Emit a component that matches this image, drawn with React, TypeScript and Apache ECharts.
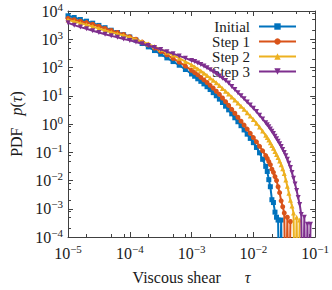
import React, { useEffect, useRef } from "react";
import * as echarts from "echarts";

// log10 of viscous shear tau (sampling positions)
const logTau = [
  -5.0, -4.9, -4.8, -4.7, -4.6, -4.5, -4.4, -4.3, -4.2, -4.1, -4.0, -3.9, -3.8, -3.7, -3.6, -3.5, -3.4, -3.3, -3.2, -3.1, -3.0,
  -2.95, -2.9, -2.85, -2.8, -2.75, -2.7, -2.65, -2.6, -2.55, -2.5, -2.45, -2.4, -2.35, -2.3, -2.25, -2.2, -2.15, -2.1, -2.05, -2.0, -1.95, -1.9, -1.85, -1.8,
  -1.775, -1.75, -1.725, -1.7, -1.675, -1.65, -1.625, -1.6, -1.575, -1.55, -1.525, -1.5, -1.475, -1.45, -1.425, -1.4, -1.375, -1.35, -1.325, -1.3,
  -1.275, -1.25, -1.225, -1.2, -1.175, -1.15, -1.125, -1.1, -1.075, -1.05,
];

// log10 of PDF p(tau); -7 marks an empty bin (drops below the axis)
const initialLogP = [
  3.83, 3.77, 3.70, 3.64, 3.57, 3.49, 3.41, 3.32, 3.24, 3.16, 3.08, 2.97, 2.85, 2.73, 2.60, 2.47, 2.34, 2.21, 2.08, 1.93, 1.77,
  1.69, 1.60, 1.51, 1.42, 1.32, 1.22, 1.11, 1.00, 0.88, 0.76, 0.63, 0.50, 0.36, 0.22, 0.08, -0.06, -0.21, -0.36, -0.51, -0.66, -0.83, -1.02, -1.25, -1.50,
  -1.68, -1.97, -2.22, -2.68, -2.78, -3.12, -3.3, -3.4, -7, -3.4, -7,
];
const step1LogP = [
  3.74, 3.69, 3.64, 3.59, 3.53, 3.46, 3.38, 3.31, 3.24, 3.17, 3.09, 3.00, 2.90, 2.80, 2.69, 2.57, 2.45, 2.32, 2.19, 2.05, 1.90,
  1.82, 1.74, 1.65, 1.56, 1.47, 1.37, 1.27, 1.16, 1.05, 0.92, 0.79, 0.66, 0.52, 0.38, 0.24, 0.10, -0.04, -0.18, -0.33, -0.48, -0.63, -0.79, -0.95, -1.12,
  -1.22, -1.33, -1.44, -1.6, -1.71, -1.86, -2.0, -2.22, -2.43, -2.72, -2.93, -3.15, -7, -3.3, -7, -3.45,
];
const step2LogP = [
  3.68, 3.63, 3.57, 3.51, 3.45, 3.38, 3.31, 3.25, 3.19, 3.13, 3.07, 2.99, 2.91, 2.83, 2.74, 2.64, 2.54, 2.44, 2.33, 2.21, 2.09,
  2.02, 1.95, 1.88, 1.80, 1.72, 1.63, 1.55, 1.46, 1.36, 1.26, 1.16, 1.06, 0.96, 0.85, 0.74, 0.63, 0.52, 0.40, 0.28, 0.16, 0.03, -0.11, -0.25, -0.40,
  -0.48, -0.57, -0.66, -0.76, -0.86, -0.97, -1.08, -1.19, -1.31, -1.44, -1.58, -1.75, -1.98, -2.2, -2.45, -2.7, -2.9, -3.15, -7, -3.3,
  -7, -3.4,
];
const step3LogP = [
  3.58, 3.50, 3.43, 3.37, 3.30, 3.24, 3.18, 3.12, 3.07, 3.01, 2.96, 2.90, 2.84, 2.78, 2.71, 2.64, 2.56, 2.49, 2.41, 2.33, 2.25,
  2.21, 2.16, 2.11, 2.05, 1.99, 1.92, 1.85, 1.78, 1.70, 1.62, 1.54, 1.45, 1.33, 1.22, 1.11, 1.00, 0.89, 0.78, 0.67, 0.56, 0.44, 0.31, 0.18, 0.04,
  -0.03, -0.10, -0.18, -0.26, -0.34, -0.43, -0.52, -0.61, -0.70, -0.80, -0.90, -1.01, -1.12, -1.25, -1.39, -1.54, -1.72, -1.92, -2.12, -2.35,
  -2.6, -2.85, -3.2, -7, -3.3, -7, -3.55, -7, -3.55,
];

const seriesNames = ["Initial", "Step 1", "Step 2", "Step 3"];
const seriesLogP = [initialLogP, step1LogP, step2LogP, step3LogP];
const seriesColors = ["#0072BD", "#D95319", "#EDB120", "#7E2F8E"];
const seriesSymbols = ["rect", "circle", "triangle", "path://M0,0L10,0L5,9Z"];

const xMajorTicks = [1e-5, 1e-4, 1e-3, 1e-2, 1e-1];
const yMajorTicks = [1e-4, 1e-3, 1e-2, 1e-1, 1e0, 1e1, 1e2, 1e3, 1e4];
const minorMultipliers = [2, 5, 8];

const FONT = "'Liberation Serif', 'Times New Roman', serif";
const AXIS_COLOR = "#404040";
const TEXT_COLOR = "#1a1a1a";

function minorsFor(majors: number[]) {
  const out: number[] = [];
  for (let i = 0; i < majors.length - 1; i++) {
    for (const m of minorMultipliers) out.push(+(majors[i] * m).toPrecision(6));
  }
  return out;
}

function supLabel(v: number) {
  const e = Math.round(Math.log10(v));
  const s = e < 0 ? "\u2212" + -e : String(e);
  return `{b|10}{s|${s}}`;
}

const labelRich = {
  b: { fontFamily: FONT, fontSize: 16, lineHeight: 16, color: TEXT_COLOR, verticalAlign: "bottom" },
  s: { fontFamily: FONT, fontSize: 11, lineHeight: 12, color: TEXT_COLOR, padding: [0, 0, 7, 0], verticalAlign: "bottom" },
};

export default function App() {
  const ref = useRef<HTMLDivElement>(null);
  useEffect(() => {
    if (!ref.current) return;
    const chart = echarts.init(ref.current, null, { renderer: "svg" });
    const xMin = xMajorTicks[0];
    const xMax = xMajorTicks[xMajorTicks.length - 1];
    const yMin = yMajorTicks[0];
    const yMax = yMajorTicks[yMajorTicks.length - 1];
    const xMinors = minorsFor(xMajorTicks);
    const yMinors = minorsFor(yMajorTicks);

    const baseX = { type: "log", logBase: 10, min: xMin, max: xMax, gridIndex: 0, splitLine: { show: false } };
    const baseY = { type: "log", logBase: 10, min: yMin, max: yMax, gridIndex: 0, splitLine: { show: false } };

    const xAxes = [
      {
        ...baseX,
        position: "bottom",
        axisLine: { show: true, lineStyle: { color: AXIS_COLOR, width: 1 } },
        axisTick: { show: true, inside: true, length: 5, customValues: xMajorTicks, lineStyle: { color: AXIS_COLOR } },
        axisLabel: { show: true, customValues: xMajorTicks, formatter: supLabel, rich: labelRich, margin: 8 },
        name: "{t|Viscous shear}{g|}{i|\u03c4}",
        nameLocation: "middle",
        nameGap: 32,
        nameTextStyle: {
          rich: {
            t: { fontFamily: FONT, fontSize: 16, color: TEXT_COLOR },
            g: { width: 24 },
            i: { fontFamily: FONT, fontSize: 16, fontStyle: "italic", color: TEXT_COLOR },
          },
        },
      },
      {
        ...baseX,
        position: "bottom",
        axisLine: { show: false },
        axisTick: { show: true, inside: true, length: 3, customValues: xMinors, lineStyle: { color: AXIS_COLOR } },
        axisLabel: { show: false },
      },
      {
        ...baseX,
        position: "top",
        axisLine: { show: true, lineStyle: { color: AXIS_COLOR, width: 1 } },
        axisTick: { show: true, inside: true, length: 5, customValues: xMajorTicks, lineStyle: { color: AXIS_COLOR } },
        axisLabel: { show: false },
      },
      {
        ...baseX,
        position: "top",
        axisLine: { show: false },
        axisTick: { show: true, inside: true, length: 3, customValues: xMinors, lineStyle: { color: AXIS_COLOR } },
        axisLabel: { show: false },
      },
    ];

    const yAxes = [
      {
        ...baseY,
        position: "left",
        axisLine: { show: true, lineStyle: { color: AXIS_COLOR, width: 1 } },
        axisTick: { show: true, inside: true, length: 5, customValues: yMajorTicks, lineStyle: { color: AXIS_COLOR } },
        axisLabel: { show: true, customValues: yMajorTicks, formatter: supLabel, rich: labelRich, margin: 5 },
        name: "{t|PDF}{g|}{i|p}{t|(}{i|\u03c4}{t|)}",
        nameLocation: "middle",
        nameRotate: 90,
        nameGap: 44,
        nameTextStyle: {
          rich: {
            t: { fontFamily: FONT, fontSize: 16, color: TEXT_COLOR },
            g: { width: 12 },
            i: { fontFamily: FONT, fontSize: 16, fontStyle: "italic", color: TEXT_COLOR },
          },
        },
      },
      {
        ...baseY,
        position: "left",
        axisLine: { show: false },
        axisTick: { show: true, inside: true, length: 3, customValues: yMinors, lineStyle: { color: AXIS_COLOR } },
        axisLabel: { show: false },
      },
      {
        ...baseY,
        position: "right",
        axisLine: { show: true, lineStyle: { color: AXIS_COLOR, width: 1 } },
        axisTick: { show: true, inside: true, length: 5, customValues: yMajorTicks, lineStyle: { color: AXIS_COLOR } },
        axisLabel: { show: false },
      },
      {
        ...baseY,
        position: "right",
        axisLine: { show: false },
        axisTick: { show: true, inside: true, length: 3, customValues: yMinors, lineStyle: { color: AXIS_COLOR } },
        axisLabel: { show: false },
      },
    ];

    const series = seriesNames.map((name, k) => ({
      name,
      type: "line",
      xAxisIndex: 0,
      yAxisIndex: 0,
      data: seriesLogP[k].map((lp, i) => [Math.pow(10, logTau[i]), Math.pow(10, lp)]),
      symbol: seriesSymbols[k],
      symbolSize: 5,
      showSymbol: true,
      clip: true,
      color: seriesColors[k],
      lineStyle: { width: 2, color: seriesColors[k] },
      itemStyle: { color: seriesColors[k] },
      z: 2 + k,
    }));

    chart.setOption({
      animation: false,
      backgroundColor: "#ffffff",
      grid: { left: 62, right: 14, top: 11, bottom: 39, containLabel: false },
      xAxis: xAxes,
      yAxis: yAxes,
      legend: {
        data: seriesNames,
        orient: "vertical",
        right: 30,
        top: 14,
        align: "right",
        itemGap: 0,
        itemWidth: 37,
        itemHeight: 8,
        textStyle: { fontFamily: FONT, fontSize: 15, color: TEXT_COLOR, lineHeight: 15, padding: [0, 4, 0, 0] },
      },
      series,
    });
    return () => chart.dispose();
  }, []);
  return (
    <div
      ref={ref}
      style={{ position: "fixed", left: 0, top: 0, width: 332, height: 290, background: "#fff" }}
    />
  );
}
